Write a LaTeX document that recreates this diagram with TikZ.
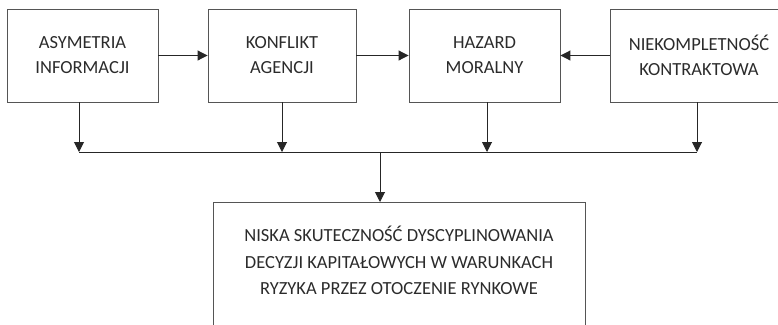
\documentclass[tikz,border=0pt]{standalone}
\usepackage{fontspec}
\setmainfont{Carlito}
\usepackage{tikz}
\usetikzlibrary{arrows.meta}

\definecolor{boxgray}{HTML}{555555}
\definecolor{txtgray}{HTML}{2B2B2B}

\tikzset{
  factor/.style={draw=boxgray, line width=0.9bp, minimum height=93bp, align=center,
    text=txtgray, font=\fontsize{18.5bp}{25bp}\selectfont, inner sep=0pt},
  link/.style={draw=black!85, line width=1bp, -{Triangle[length=10bp,width=10bp]}},
  bus/.style={draw=black!85, line width=1bp}
}

\begin{document}
\begin{tikzpicture}[x=1bp, y=-1bp]
\useasboundingbox (0,0) rectangle (778,324);
\clip (0,0) rectangle (778,324);

% draw top row
\node (asym) [factor, minimum width=151bp] at (82.5, 55.5) {ASYMETRIA\\INFORMACJI};
\node (konf) [factor, minimum width=148bp] at (282, 55.5) {KONFLIKT\\AGENCJI};
\node (haz) [factor, minimum width=151bp] at (484.5, 55.5) {HAZARD\\MORALNY};
\node (niek) [factor, minimum width=178bp] at (699, 55.5) {NIEKOMPLETNOŚĆ\\KONTRAKTOWA};

% draw result box
\node (nisk) [draw=boxgray, line width=0.9bp, minimum width=372bp, minimum height=170bp,
  anchor=north, inner sep=0pt] at (399, 202) {};
\node (nisktxt) [anchor=north, align=center, text=txtgray, inner sep=0pt,
  font=\fontsize{18.5bp}{26.5bp}\selectfont] at ([yshift=-24bp]nisk.north)
  {NISKA SKUTECZNOŚĆ DYSCYPLINOWANIA\\DECYZJI KAPITAŁOWYCH W WARUNKACH\\RYZYKA PRZEZ OTOCZENIE RYNKOWE};

% horizontal arrows
\draw[link] (asym.east) -- (konf.west);
\draw[link] (konf.east) -- (haz.west);
\draw[link] (niek.west) -- (haz.east);

% collecting line
\coordinate (b1) at (79, 152);
\coordinate (b2) at (282, 152);
\coordinate (b3) at (487, 152);
\coordinate (b4) at (697, 152);
\coordinate (bm) at (380, 152);
\draw[bus] (b1) -- (b4);
\draw[link] (b1 |- asym.south) -- (b1);
\draw[link] (b2 |- konf.south) -- (b2);
\draw[link] (b3 |- haz.south) -- (b3);
\draw[link] (b4 |- niek.south) -- (b4);
\draw[link] (bm) -- (bm |- nisk.north);

\end{tikzpicture}
\end{document}
